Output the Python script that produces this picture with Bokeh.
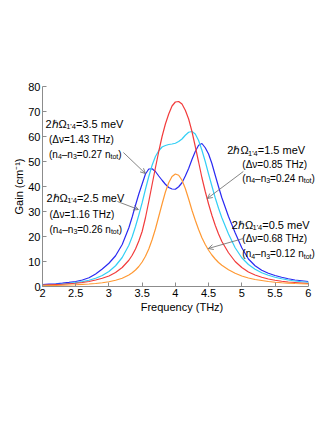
from bokeh.plotting import figure
from bokeh.models import Range1d, FixedTicker, Label, Arrow, OpenHead
from bokeh.embed import file_html
from bokeh.resources import INLINE

# ---------------- data ----------------
freq = [2.0, 2.1, 2.2, 2.3, 2.4, 2.5, 2.6, 2.7, 2.8, 2.9, 3.0, 3.1, 3.2,
        3.3, 3.35, 3.4, 3.45, 3.5, 3.55, 3.6, 3.65, 3.7, 3.75, 3.8, 3.85,
        3.9, 3.95, 4.0, 4.05, 4.1, 4.15, 4.2, 4.25, 4.3, 4.35, 4.4, 4.45,
        4.5, 4.55, 4.6, 4.65, 4.7,
        4.8, 4.9, 5.0, 5.1, 5.2, 5.3, 5.4, 5.5, 5.6, 5.7, 5.8, 5.9, 6.0]

gain_35meV = [0.8, 0.95, 1.1, 1.35, 1.65, 2.0, 2.6, 3.5, 5.0, 7.0, 9.3, 12.3, 16.8,
              23.5, 27.8, 32.5, 37.0, 41.0, 45.0, 47.0, 47.1, 46.0, 44.2, 42.5, 40.9,
              39.6, 39.0, 38.9, 39.9, 41.5, 44.2, 47.2, 50.8, 54.0, 56.5, 57.2, 55.5,
              53.0, 49.2, 44.5, 39.9, 35.5,
              28.0, 21.5, 15.5, 11.0, 8.3, 6.5, 5.3, 4.4, 3.7, 3.1, 2.6, 2.3, 2.0]

gain_25meV = [0.6, 0.7, 0.85, 1.0, 1.25, 1.55, 1.95, 2.5, 3.3, 4.4, 6.0, 8.3, 11.6,
              16.5, 19.9, 24.0, 28.6, 33.5, 38.9, 44.0, 48.5, 52.0, 54.3, 55.8, 56.4,
              56.8, 57.0, 57.3, 58.0, 59.0, 60.5, 61.7, 62.0, 61.0, 58.4, 54.5, 50.0,
              45.0, 40.2, 35.5, 31.3, 27.5,
              21.0, 15.5, 11.5, 8.8, 6.9, 5.5, 4.5, 3.7, 3.1, 2.6, 2.2, 1.9, 1.7]

gain_15meV = [0.6, 0.7, 0.8, 0.9, 1.1, 1.3, 1.6, 2.0, 2.6, 3.3, 4.2, 5.6, 7.6,
              10.5, 12.5, 15.0, 18.2, 22.0, 27.5, 34.0, 40.8, 47.5, 54.0, 60.0, 65.0,
              69.0, 72.2, 73.8, 74.0, 73.0, 70.5, 67.0, 62.0, 56.0, 49.8, 43.5, 38.0,
              33.0, 28.5, 24.5, 21.0, 18.0,
              13.5, 10.0, 7.6, 5.8, 4.6, 3.7, 3.0, 2.5, 2.1, 1.8, 1.6, 1.4, 1.2]

gain_05meV = [0.3, 0.35, 0.4, 0.5, 0.6, 0.7, 0.85, 1.0, 1.2, 1.5, 1.9, 2.5, 3.3,
              4.6, 5.5, 6.6, 8.0, 9.8, 12.1, 15.0, 18.7, 23.0, 28.0, 33.0, 37.8,
              41.5, 44.0, 45.0, 44.5, 42.5, 39.2, 35.0, 30.5, 26.5, 22.8, 19.5, 16.8,
              14.5, 12.6, 11.0, 9.6, 8.5,
              6.7, 5.3, 4.2, 3.4, 2.8, 2.4, 2.0, 1.7, 1.5, 1.35, 1.2, 1.1, 1.0]

x_ticks = [2, 2.5, 3, 3.5, 4, 4.5, 5, 5.5, 6]
x_tick_labels = ["2", "2.5", "3", "3.5", "4", "4.5", "5", "5.5", "6"]
y_ticks = [0, 10, 20, 30, 40, 50, 60, 70, 80]

series = [
    (gain_35meV, "#2a2af2"),
    (gain_25meV, "#33cff5"),
    (gain_15meV, "#f23c3c"),
    (gain_05meV, "#ff9933"),
]

# ---------------- figure ----------------
# frame extends a little past 6 THz so the right-hand notes are not clipped;
# the x axis itself is bounded to 2..6
p = figure(width=332, height=318, output_backend="svg", toolbar_location=None,
           x_range=Range1d(2, 6.2), y_range=Range1d(0, 80),
           min_border_left=42, min_border_right=11,
           min_border_top=86, min_border_bottom=32)
p.background_fill_color = "white"
p.border_fill_color = "white"
p.outline_line_color = None
p.xgrid.grid_line_color = None
p.ygrid.grid_line_color = None

for ax in (p.xaxis[0], p.yaxis[0]):
    ax.axis_line_color = "#8c8c8c"
    ax.axis_line_width = 1
    ax.major_tick_line_color = "#8c8c8c"
    ax.major_tick_in = 4
    ax.major_tick_out = 0
    ax.minor_tick_line_color = None
    ax.major_label_text_font = "Liberation Sans"
    ax.major_label_text_font_size = "11px"
    ax.major_label_text_color = "black"
    ax.major_label_standoff = 2
    ax.axis_label_text_font = "Liberation Sans"
    ax.axis_label_text_font_size = "11px"
    ax.axis_label_text_font_style = "normal"
    ax.axis_label_text_color = "black"
p.xaxis.axis_label_standoff = 1
p.yaxis.axis_label_standoff = 0
p.xaxis.bounds = (2, 6)

p.xaxis.ticker = FixedTicker(ticks=x_ticks)
p.xaxis.major_label_overrides = {t: l for t, l in zip(x_ticks, x_tick_labels)}
p.yaxis.ticker = FixedTicker(ticks=y_ticks)
p.xaxis.axis_label = "Frequency (THz)"
p.yaxis.axis_label = "Gain (cm\u207b\u00b9)"

for ys, col in series:
    p.line(freq, ys, line_color=col, line_width=1.2)

# ---------------- annotations ----------------
W = {'0': .556, '1': .556, '2': .556, '3': .556, '4': .556, '5': .556,
     '6': .556, '7': .556, '8': .556, '9': .556, '.': .278, '=': .584,
     ' ': .278, '(': .333, ')': .333, 'n': .556, '\u2013': .556, 'm': .833,
     'e': .556, 'V': .667, 'T': .611, 'H': .722, 'z': .5, '\u0394': .668,
     '\u03bd': .5, '\u210f': .556, '\u03a9': .768, "'": .191, 't': .278,
     'o': .556}


def text_w(s, size):
    return sum(W.get(c, .556) for c in s) * size


def add_line(x, y, parts):
    off = 0.0
    for txt, size, dy in parts:
        p.add_layout(Label(x=x, y=y, x_offset=off, y_offset=dy, text=txt,
                           text_font="Liberation Sans",
                           text_font_size=f"{size}px",
                           text_baseline="alphabetic", text_align="left",
                           text_color="black"))
        off += text_w(txt, size)


def block(x1, y1, x2, y2, y3, mev, dnu, dn):
    add_line(x1, y1, [("2\u210f\u03a9", 11, 0), ("1'4", 7.5, -3),
                      (f"={mev} meV", 11, 0)])
    add_line(x2, y2, [(f"(\u0394\u03bd={dnu} THz)", 10, 0)])
    add_line(x2, y3, [("(n", 10, 0), ("4", 7, -2.5), ("\u2013n", 10, 0),
                      ("3", 7, -2.5), (f"={dn} n", 10, 0), ("tot", 7, -2.5),
                      (")", 10, 0)])


block(2.045, 65.2, 2.098, 58.8, 53.0, "3.5", "1.43", "0.27")
block(2.06, 35.6, 2.105, 29.0, 23.0, "2.5", "1.16", "0.26")
block(4.782, 54.6, 5.008, 48.8, 43.4, "1.5", "0.85", "0.24")
block(4.85, 24.8, 5.008, 19.4, 13.2, "0.5", "0.68", "0.12")

arrows = [
    (3.218, 53.6, 3.549, 45.2),
    (3.128, 34.0, 3.444, 30.8),
    (5.023, 46.0, 4.481, 35.2),
    (5.023, 19.2, 4.496, 15.2),
]
for xs, ys, xe, ye in arrows:
    p.add_layout(Arrow(end=OpenHead(size=5, line_color="#666666", line_width=0.8),
                       x_start=xs, y_start=ys, x_end=xe, y_end=ye,
                       line_color="#666666", line_width=0.8))

open("out.html", "w").write(file_html(p, INLINE))
